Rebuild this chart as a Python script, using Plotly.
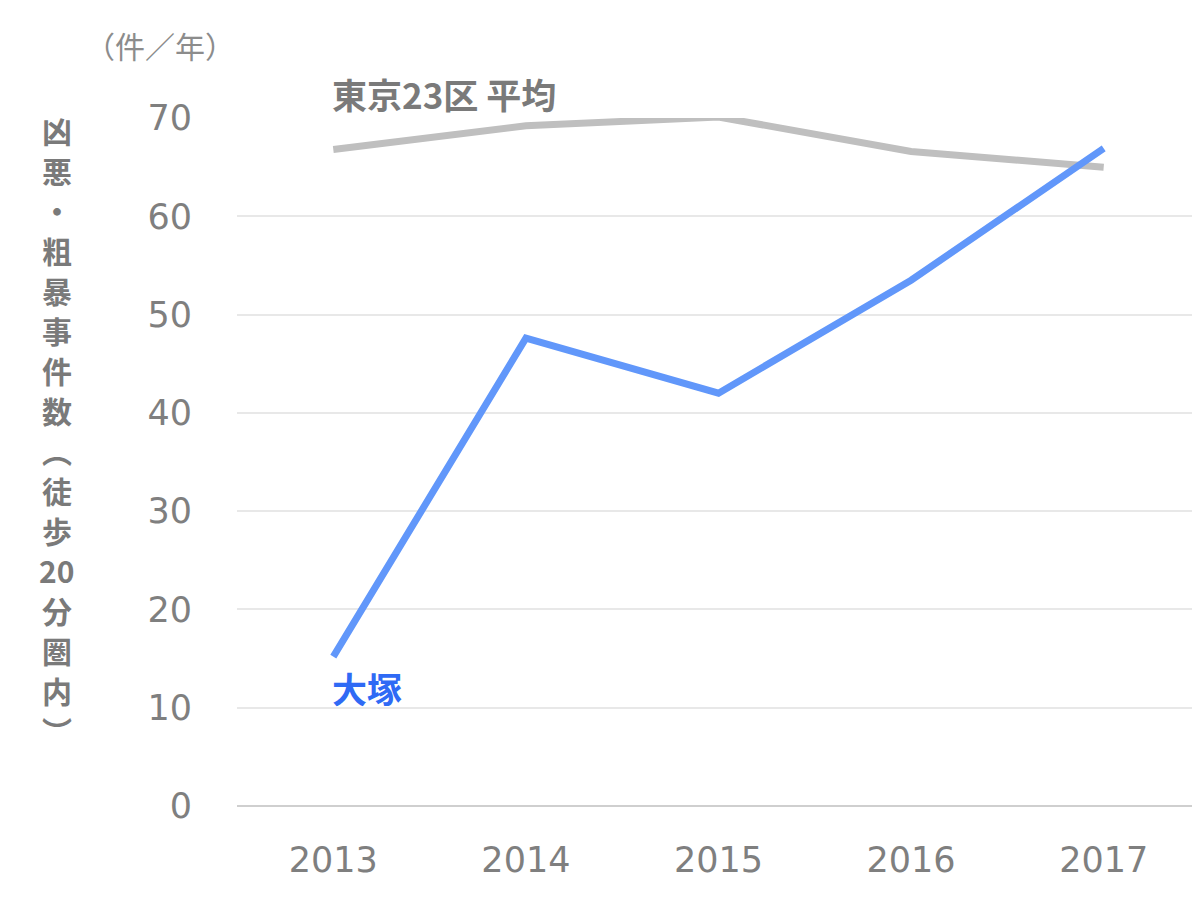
import plotly.graph_objects as go

years = ["2013", "2014", "2015", "2016", "2017"]
tokyo_avg = [66.8, 69.2, 70.1, 66.6, 65.0]
otsuka = [15.2, 47.6, 42.0, 53.5, 66.9]
y_ticks = [0, 10, 20, 30, 40, 50, 60, 70]
title_chars = list("凶悪・粗暴事件数︵徒歩") + ["20"] + list("分圏内︶")

FONT = "Noto Sans CJK JP"
NUMFONT = "DejaVu Sans"
fig = go.Figure()
fig.add_trace(go.Scatter(x=years, y=tokyo_avg, mode="lines",
                         line=dict(color="#bfbfbf", width=7), cliponaxis=False,
                         hoverinfo="skip"))
fig.add_trace(go.Scatter(x=years, y=otsuka, mode="lines",
                         line=dict(color="#6197fa", width=7), cliponaxis=False,
                         hoverinfo="skip"))

# vertical (stacked) y-axis title, one glyph per line
PLOT_H = 688
for i, ch in enumerate(title_chars):
    fig.add_annotation(text="<b>" + ch + "</b>", xref="paper", yref="paper",
                       x=-0.187, y=(798 - (122 + 40 * i)) / PLOT_H,
                       xanchor="center", yanchor="middle", showarrow=False,
                       font=dict(family=FONT, size=30, color="#7a7a7a"))
fig.add_annotation(text="（件／年）", xref="paper", yref="paper",
                   x=-0.080, y=1.106, xanchor="center", yanchor="middle",
                   showarrow=False, font=dict(family=FONT, size=30, color="#8c8c8c"))
fig.add_annotation(text="<b>東京23区 平均</b>", x=0, y=tokyo_avg[0],
                   xanchor="left", yanchor="middle", xshift=-3, yshift=56,
                   showarrow=False, font=dict(family=FONT, size=35, color="#7a7a7a"))
fig.add_annotation(text="<b>大塚</b>", x=0, y=otsuka[0],
                   xanchor="left", yanchor="middle", xshift=-3, yshift=-31,
                   showarrow=False, font=dict(family=FONT, size=35, color="#2f6af5"))

fig.update_layout(
    width=1200, height=900, showlegend=False,
    plot_bgcolor="white", paper_bgcolor="white",
    margin=dict(l=229, r=8, t=110, b=102),
    font=dict(family=FONT, color="#7a7a7a"),
    xaxis=dict(type="category", range=[-0.5, 4.5], showgrid=False, showline=False,
               zeroline=False,
               tickfont=dict(family=NUMFONT, size=35, color="#7f7f7f"),
               ticklabelstandoff=30, ticks=""),
    yaxis=dict(range=[0, 70], tickvals=y_ticks, showgrid=True, gridcolor="#e8e8e8",
               gridwidth=2, zeroline=True, zerolinecolor="#cfcfcf", zerolinewidth=2,
               showline=False, tickfont=dict(family=NUMFONT, size=35, color="#7f7f7f"),
               ticklabelstandoff=44, ticks=""),
)
fig.write_html("out.html")
